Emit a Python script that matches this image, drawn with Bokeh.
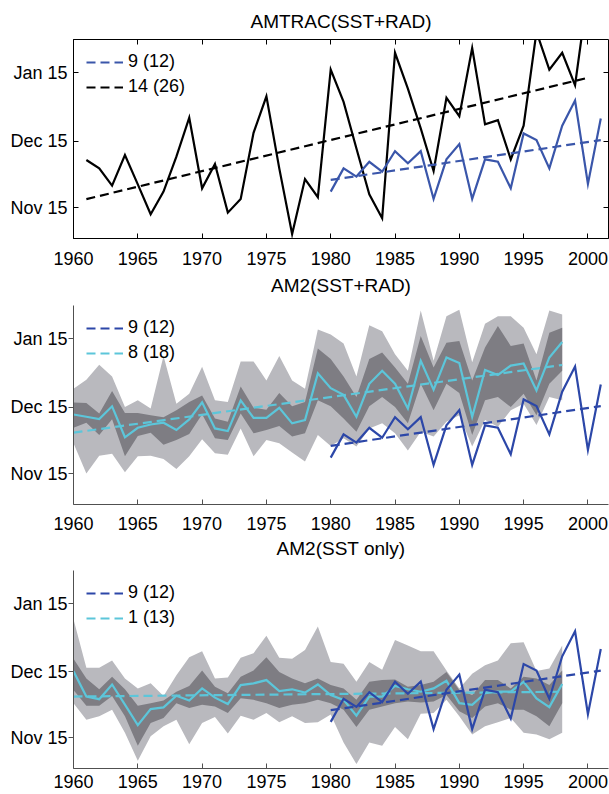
from bokeh.plotting import figure
from bokeh.models import Range1d, FixedTicker, LinearAxis, Legend, LegendItem, Title
from bokeh.layouts import column
from bokeh.embed import file_html
from bokeh.resources import INLINE

FONT = "Liberation Sans"

# ---------------- data (days after Nov 15) ----------------
x_ticks = [1960, 1965, 1970, 1975, 1980, 1985, 1990, 1995, 2000]
y_ticks = [0, 30, 61]
y_tick_labels = ["Nov 15", "Dec 15", "Jan 15"]

panel_titles = ["AMTRAC(SST+RAD)", "AM2(SST+RAD)", "AM2(SST only)"]

obs_years = list(range(1980, 2002))
obs = [7.2, 17.7, 14.0, 20.7, 16.2, 25.5, 20.0, 25.5, 3.9, 21.8, 28.7,
       3.9, 21.8, 20.7, 8.7, 33.5, 30.5, 17.7, 37.0, 48.4, 10.7, 40.3]
obs_trend_years = [1980, 2001]
obs_trend = [12.5, 30.5]
obs_label = "9 (12)"

amtrac_years = list(range(1961, 2001))
amtrac = [21.5, 17.7, 9.9, 23.7, 10.5, -3.0, 7.2, 23.0, 40.6, 8.7,
          19.7, -2.3, 3.9, 33.8, 50.3, 17.7, -12.0, 12.9, 4.7, 62.4,
          47.8, 26.7, 6.0, -4.8, 70.0, 53.8, 35.8, 16.5, 49.6, 41.3,
          72.1, 37.6, 39.5, 21.8, 37.0, 79.5, 62.4, 70.0, 55.3, 98.0]
amtrac_trend_years = [1961, 2000]
amtrac_trend = [3.8, 58.7]
amtrac_label = "14 (26)"

ens_years = list(range(1960, 1999))

rad_mean = [26.7, 25.7, 24.6, 30.4, 16.4, 20.7, 22.2, 23.0, 19.7, 24.5,
            32.2, 20.4, 19.2, 33.1, 25.2, 25.2, 29.7, 22.7, 24.2, 45.3,
            38.6, 35.6, 25.7, 40.6, 46.5, 40.6, 29.4, 51.0, 37.9, 52.5,
            50.0, 25.7, 46.8, 44.6, 48.8, 49.8, 37.6, 52.5, 59.5]
rad_dark_hi = [32.1, 31.9, 27.1, 37.3, 27.4, 27.4, 26.4, 25.5, 28.6, 32.4,
               35.3, 24.9, 23.4, 39.4, 29.8, 28.9, 36.4, 30.4, 32.4, 56.5,
               51.8, 43.9, 34.6, 51.8, 54.7, 48.0, 40.6, 62.2, 48.0, 59.2,
               60.0, 42.1, 57.0, 66.7, 57.7, 58.8, 42.1, 63.7, 65.9]
rad_dark_lo = [20.7, 23.0, 17.4, 24.5, 7.8, 17.0, 18.5, 13.0, 15.2, 17.9,
               26.8, 16.0, 15.2, 27.1, 18.2, 19.7, 21.5, 16.7, 18.2, 33.1,
               30.4, 24.9, 18.9, 30.4, 34.6, 30.1, 22.7, 40.6, 28.6, 40.6,
               36.4, 17.4, 33.1, 34.6, 30.1, 36.1, 26.4, 40.6, 46.5]
rad_light_hi = [38.3, 42.4, 49.2, 43.9, 30.1, 33.1, 29.4, 53.2, 31.6, 36.1,
                48.3, 33.1, 32.4, 50.7, 50.7, 42.1, 53.2, 42.1, 38.3, 65.2,
                62.9, 58.8, 43.9, 67.1, 64.4, 54.0, 46.5, 73.7, 51.0, 71.1,
                74.1, 50.3, 67.7, 71.1, 71.1, 65.9, 54.0, 73.7, 71.9]
rad_light_lo = [13.7, 0.0, 8.1, 8.9, 0.6, 7.8, 8.1, 6.6, 2.1, 7.8,
                15.5, 9.2, 8.5, 20.4, 7.8, 15.2, 13.7, 9.5, 5.5, 17.4,
                12.5, 16.0, 12.2, 20.4, 22.7, 18.2, 10.4, 18.9, 16.7, 23.4,
                26.4, 12.2, 24.2, 21.2, 28.6, 31.6, 21.9, 34.6, 33.1]
rad_trend_years = [1960, 1998]
rad_trend = [18.5, 49.1]
rad_label = "8 (18)"

sst_mean = [30.2, 18.7, 17.5, 24.2, 15.0, 5.7, 13.0, 13.8, 19.1, 16.9,
            22.4, 18.2, 15.3, 23.9, 24.7, 26.2, 21.2, 22.0, 20.5, 24.2,
            19.4, 17.2, 10.0, 18.7, 18.7, 23.5, 22.0, 20.9, 22.4, 25.9,
            15.7, 14.9, 20.2, 20.9, 20.9, 25.4, 17.9, 13.9, 24.4]
sst_dark_hi = [35.9, 26.9, 22.0, 27.7, 22.0, 14.5, 15.7, 16.9, 20.9, 23.5,
               30.6, 23.2, 20.2, 27.7, 30.6, 36.6, 29.9, 26.9, 24.7, 26.9,
               23.9, 22.4, 17.2, 25.4, 26.2, 26.5, 23.2, 23.9, 25.4, 29.9,
               21.7, 19.4, 26.2, 26.2, 22.4, 27.7, 26.9, 23.9, 30.6]
sst_dark_lo = [21.7, 14.5, 14.5, 19.0, 9.7, -3.7, 6.7, 9.0, 15.7, 13.5,
               15.0, 14.2, 11.2, 17.9, 17.2, 15.7, 13.5, 15.0, 15.7, 17.2,
               15.7, 12.7, 4.9, 12.7, 14.2, 15.7, 16.4, 16.0, 16.4, 19.4,
               12.0, 9.0, 14.2, 15.7, 12.7, 12.7, 9.7, 5.2, 15.7]
sst_light_hi = [53.8, 31.8, 31.8, 35.1, 26.9, 22.4, 24.7, 19.0, 28.4, 36.6,
                39.3, 26.9, 27.4, 36.3, 38.4, 46.3, 36.3, 35.9, 39.9, 50.5,
                34.4, 33.6, 25.4, 34.4, 30.9, 44.4, 41.9, 39.3, 39.3, 30.6,
                22.4, 29.1, 32.9, 35.1, 42.9, 43.4, 30.3, 31.4, 41.9]
sst_light_lo = [15.7, 8.2, 9.7, 12.7, 2.2, -10.5, 0.7, 5.2, 8.2, -3.0,
                6.7, 9.4, 1.9, 10.0, 8.2, 11.2, 7.0, 9.7, 6.7, 7.0,
                10.5, -2.2, -12.0, -2.2, -3.7, 4.9, -0.7, 10.9, 11.2, 17.2,
                9.7, 1.5, 5.2, 7.0, 9.0, 2.2, 1.5, -0.7, 2.2]
sst_trend_years = [1960, 1998]
sst_trend = [18.7, 20.9]
sst_label = "1 (13)"

# ---------------- styling ----------------
BLUE1 = "#3a56aa"
BLUE2 = "#2c47a8"
CYAN = "#5cc6da"
LIGHT = "#b9b9be"
DARK = "#7e7d83"
DASH = "9 5"
LW = 2.2


def make_title(text, standoff):
    return Title(text=text, align="center", text_font=FONT,
                 text_font_size="19px", text_font_style="normal",
                 text_color="black", standoff=standoff)


def blank_axis(ticks):
    return LinearAxis(ticker=FixedTicker(ticks=ticks),
                      major_label_overrides={t: "" for t in ticks},
                      major_label_text_font_size="0px",
                      major_label_standoff=0,
                      major_tick_in=5, major_tick_out=0,
                      major_tick_line_color="black",
                      minor_tick_line_color=None,
                      axis_line_color=None)


def make_fig(height, top, bottom, x_standoff, boxed):
    p = figure(width=609, height=height,
               x_range=Range1d(1960, 2001.6), y_range=Range1d(-14, 76),
               output_backend="svg", toolbar_location=None,
               min_border_left=73, min_border_right=1,
               min_border_top=top, min_border_bottom=bottom,
               background_fill_color="white", border_fill_color="white")
    p.xgrid.visible = False
    p.ygrid.visible = False

    axcol = "black" if boxed else "#505050"
    for ax in (p.xaxis[0], p.yaxis[0]):
        ax.axis_line_color = axcol
        ax.axis_line_width = 1
        ax.major_tick_line_color = axcol
        ax.minor_tick_line_color = None
        ax.major_label_text_font = FONT
        ax.major_label_text_font_size = "18px"
        ax.major_label_text_color = "black"
    p.xaxis.ticker = FixedTicker(ticks=x_ticks)
    p.xaxis.major_label_overrides = {t: str(t) for t in x_ticks}
    p.xaxis.major_tick_in = 5
    p.xaxis.major_tick_out = 0
    p.xaxis.major_label_standoff = x_standoff
    p.yaxis.ticker = FixedTicker(ticks=y_ticks)
    p.yaxis.major_label_overrides = dict(zip(y_ticks, y_tick_labels))
    if boxed:
        p.yaxis.major_tick_in = 5
        p.yaxis.major_tick_out = 0
        p.yaxis.major_label_standoff = 6
        p.outline_line_color = "black"
        p.outline_line_width = 1
        p.add_layout(blank_axis(y_ticks), "right")
        p.add_layout(blank_axis(x_ticks), "above")
    else:
        p.yaxis.major_tick_in = 0
        p.yaxis.major_tick_out = 5
        p.yaxis.major_label_standoff = 1
        p.outline_line_color = None
    return p


def add_legend(p, items, frame_h):
    leg = Legend(items=[LegendItem(label=l, renderers=[r]) for l, r in items],
                 location=(13, frame_h - 14 - 44),
                 orientation="vertical",
                 border_line_color=None, background_fill_alpha=0,
                 padding=0, margin=0, spacing=4,
                 glyph_width=37, glyph_height=20, label_height=20,
                 label_standoff=5,
                 label_text_font=FONT, label_text_font_size="18px",
                 label_text_color="black")
    p.add_layout(leg)


# ---------------- panel 1 ----------------
p1 = make_fig(305, 39, 67, 13, True)
p1.add_layout(make_title(panel_titles[0], 15), "above")
p1.line(amtrac_years, amtrac, line_color="black", line_width=LW, line_join="miter")
r_bt = p1.line(amtrac_trend_years, amtrac_trend, line_color="black", line_width=LW,
               line_dash=DASH)
p1.line(obs_years, obs, line_color=BLUE1, line_width=LW, line_join="miter")
r_ot1 = p1.line(obs_trend_years, obs_trend, line_color=BLUE1, line_width=LW,
                line_dash=DASH)
add_legend(p1, [(obs_label, r_ot1), (amtrac_label, r_bt)], 199)
# heading of the panel below, set under this panel's year labels
p1.add_layout(make_title(panel_titles[1], 10), "below")


def ensemble_panel(height, top, bottom, x_standoff, frame_h,
                   lhi, llo, dhi, dlo, mean, tr_years, tr, label):
    p = make_fig(height, top, bottom, x_standoff, False)
    p.varea(x=ens_years, y1=llo, y2=lhi, fill_color=LIGHT)
    p.varea(x=ens_years, y1=dlo, y2=dhi, fill_color=DARK)
    p.line(ens_years, mean, line_color=CYAN, line_width=LW, line_join="miter")
    r_ct = p.line(tr_years, tr, line_color=CYAN, line_width=LW, line_dash=DASH)
    p.line(obs_years, obs, line_color=BLUE2, line_width=LW, line_join="miter")
    r_ot = p.line(obs_trend_years, obs_trend, line_color=BLUE2, line_width=LW,
                  line_dash=DASH)
    add_legend(p, [(obs_label, r_ot), (label, r_ct)], frame_h)
    return p


p2 = ensemble_panel(261, 0, 62, 12, 199,
                    rad_light_hi, rad_light_lo, rad_dark_hi, rad_dark_lo,
                    rad_mean, rad_trend_years, rad_trend, rad_label)
p2.add_layout(make_title(panel_titles[2], 6), "below")
p3 = ensemble_panel(228, 4, 26, 6, 198,
                    sst_light_hi, sst_light_lo, sst_dark_hi, sst_dark_lo,
                    sst_mean, sst_trend_years, sst_trend, sst_label)

layout = column(p1, p2, p3, spacing=0)
open("out.html", "w").write(file_html(layout, INLINE))
